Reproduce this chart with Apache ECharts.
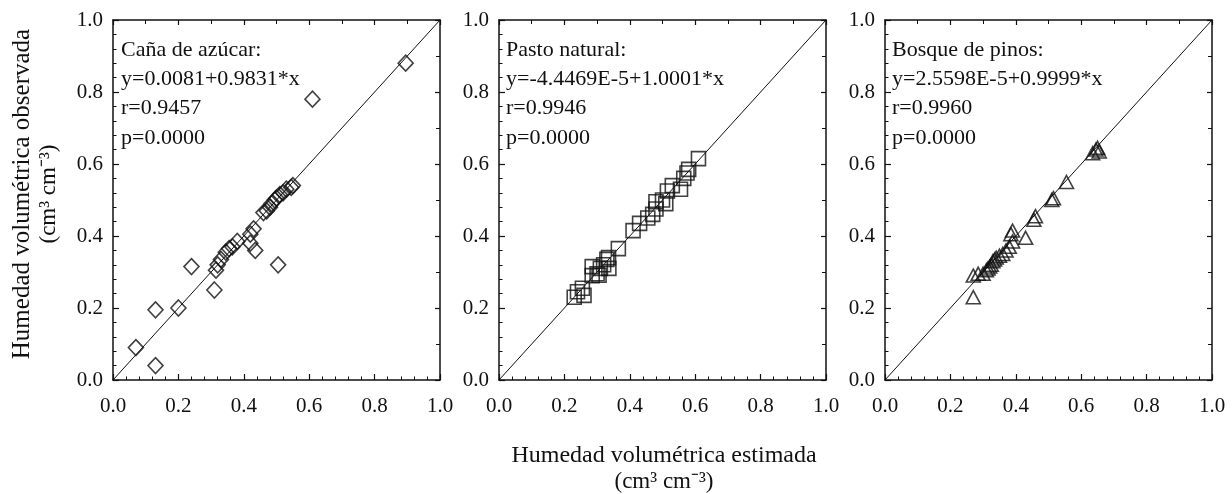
<!DOCTYPE html>
<html><head><meta charset="utf-8">
<script src="https://cdn.jsdelivr.net/npm/echarts@6/dist/echarts.min.js"></script>
<style>html,body{margin:0;padding:0;background:#fff}#c{width:1232px;height:494px}</style>
</head><body><div id="c"></div>
<script>
const cana = [[0.07,0.09],[0.13,0.04],[0.13,0.195],[0.20,0.20],[0.24,0.315],[0.31,0.25],[0.315,0.305],[0.32,0.32],[0.33,0.335],[0.345,0.355],[0.355,0.365],[0.365,0.37],[0.38,0.385],[0.42,0.38],[0.435,0.36],[0.42,0.405],[0.43,0.42],[0.46,0.465],[0.47,0.47],[0.48,0.48],[0.485,0.49],[0.495,0.50],[0.50,0.505],[0.505,0.32],[0.51,0.515],[0.52,0.52],[0.53,0.53],[0.545,0.535],[0.55,0.54],[0.61,0.78],[0.895,0.88]];
const pasto = [[0.23,0.23],[0.24,0.245],[0.26,0.235],[0.255,0.255],[0.285,0.29],[0.285,0.315],[0.30,0.295],[0.306,0.291],[0.31,0.31],[0.32,0.32],[0.33,0.335],[0.335,0.34],[0.336,0.31],[0.365,0.365],[0.41,0.415],[0.43,0.435],[0.455,0.45],[0.47,0.46],[0.48,0.475],[0.48,0.495],[0.50,0.50],[0.51,0.49],[0.515,0.525],[0.53,0.54],[0.555,0.53],[0.565,0.56],[0.575,0.575],[0.58,0.585],[0.61,0.615]];
const pinos = [[0.27,0.23],[0.27,0.29],[0.285,0.295],[0.30,0.295],[0.31,0.305],[0.315,0.31],[0.32,0.315],[0.325,0.32],[0.33,0.33],[0.335,0.335],[0.34,0.34],[0.35,0.345],[0.36,0.35],[0.37,0.36],[0.38,0.37],[0.39,0.385],[0.385,0.405],[0.39,0.415],[0.43,0.395],[0.455,0.445],[0.46,0.455],[0.51,0.50],[0.515,0.505],[0.555,0.55],[0.635,0.63],[0.645,0.64],[0.655,0.635],[0.65,0.645]];
const identityLine = [[0,0],[1,1]];
const notes1 = ["Caña de azúcar:", "y=0.0081+0.9831*x", "r=0.9457", "p=0.0000"];
const notes2 = ["Pasto natural:", "y=-4.4469E-5+1.0001*x", "r=0.9946", "p=0.0000"];
const notes3 = ["Bosque de pinos:", "y=2.5598E-5+0.9999*x", "r=0.9960", "p=0.0000"];
const xTitle = ["Humedad volumétrica estimada", "(cm³ cm⁻³)"];
const yTitle = ["Humedad volumétrica observada", "(cm³ cm⁻³)"];

const FONT = '"Liberation Serif","Times New Roman",serif';
const INK = '#111';
const panels = [
  {left:113, data:cana, symbol:'diamond', size:[15,16], notes:notes1, noteX:121},
  {left:499, data:pasto, symbol:'rect', size:14, notes:notes2, noteX:506},
  {left:885, data:pinos, symbol:'triangle', size:[14,13], notes:notes3, noteX:892}
];
const W = 327, TOP = 20, H = 360;
const grid=[], xAxis=[], yAxis=[], series=[], graphic=[];
panels.forEach((p,i)=>{
  grid.push({left:p.left, top:TOP, width:W, height:H});
  const line = {show:true, onZero:false, lineStyle:{color:INK, width:1.5}};
  xAxis.push({type:'value', gridIndex:i, min:0, max:1, interval:0.2, position:'bottom',
    axisLine:line, axisTick:{inside:true, length:6, lineStyle:{color:INK,width:1.2}},
    minorTick:{show:true, splitNumber:5, length:3.5, lineStyle:{color:INK,width:1}},
    splitLine:{show:false},
    axisLabel:{color:INK, fontFamily:FONT, fontSize:21, margin:16, formatter:v=>v.toFixed(1)}});
  xAxis.push({type:'value', gridIndex:i, min:0, max:1, interval:0.2, position:'top',
    axisLine:line, axisTick:{inside:true, length:5, lineStyle:{color:INK,width:1.2}},
    minorTick:{show:true, splitNumber:2, length:4, lineStyle:{color:INK,width:1}},
    splitLine:{show:false}, axisLabel:{show:false}});
  yAxis.push({type:'value', gridIndex:i, min:0, max:1, interval:0.2, position:'left',
    axisLine:line, axisTick:{inside:true, length:6, lineStyle:{color:INK,width:1.2}},
    minorTick:{show:true, splitNumber:5, length:3.5, lineStyle:{color:INK,width:1}},
    splitLine:{show:false},
    axisLabel:{color:INK, fontFamily:FONT, fontSize:21, margin:10, formatter:v=>v.toFixed(1)}});
  yAxis.push({type:'value', gridIndex:i, min:0, max:1, interval:0.2, position:'right',
    axisLine:line, axisTick:{inside:true, length:5, lineStyle:{color:INK,width:1.2}},
    minorTick:{show:true, splitNumber:2, length:4, lineStyle:{color:INK,width:1}},
    splitLine:{show:false}, axisLabel:{show:false}});
  series.push({type:'line', xAxisIndex:i*2, yAxisIndex:i*2, data:identityLine, symbol:'none',
    lineStyle:{color:INK, width:1}, silent:true, z:1});
  series.push({type:'scatter', xAxisIndex:i*2, yAxisIndex:i*2, data:p.data, symbol:p.symbol,
    symbolSize:p.size, itemStyle:{color:'rgba(0,0,0,0)', borderColor:INK, borderWidth:1.6}, z:2});
  p.notes.forEach((t,k)=>{
    graphic.push({type:'text', x:p.noteX, y:50+k*29.3,
      style:{text:t, fill:INK, font:'22px '+FONT, textVerticalAlign:'middle'}});
  });
});
graphic.push({type:'text', x:664, y:456, style:{text:xTitle[0], fill:INK, font:'24px '+FONT, textAlign:'center', textVerticalAlign:'middle'}});
graphic.push({type:'text', x:664, y:482, style:{text:xTitle[1], fill:INK, font:'23px '+FONT, textAlign:'center', textVerticalAlign:'middle'}});
graphic.push({type:'text', x:22, y:194, rotation:Math.PI/2, style:{text:yTitle[0], fill:INK, font:'25px '+FONT, textAlign:'center', textVerticalAlign:'middle'}});
graphic.push({type:'text', x:49, y:194, rotation:Math.PI/2, style:{text:yTitle[1], fill:INK, font:'23px '+FONT, textAlign:'center', textVerticalAlign:'middle'}});

const chart = echarts.init(document.getElementById('c'), null, {renderer:'canvas'});
chart.setOption({backgroundColor:'#fff', animation:false, grid, xAxis, yAxis, series, graphic});
</script></body></html>
